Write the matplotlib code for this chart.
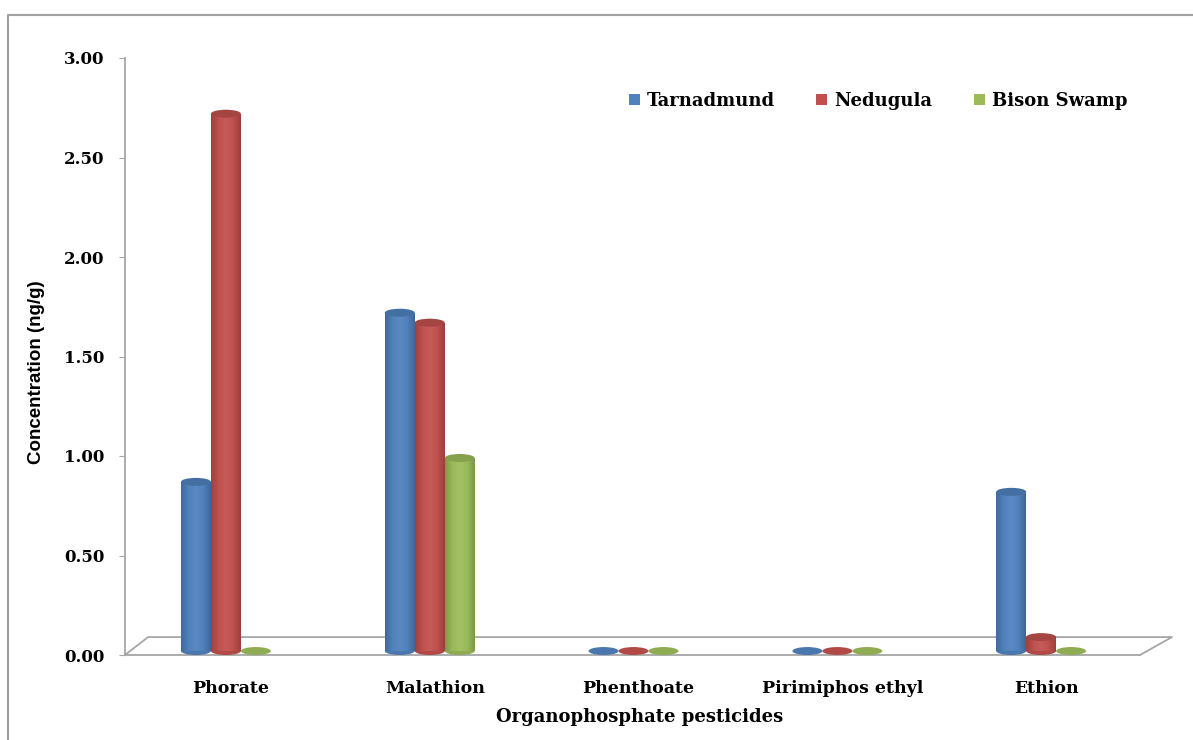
import numpy as np
import matplotlib.pyplot as plt
from matplotlib.patches import Ellipse, Patch
from matplotlib.lines import Line2D
from matplotlib.colors import LinearSegmentedColormap, to_rgb

categories = ['Phorate', 'Malathion', 'Phenthoate', 'Pirimiphos ethyl', 'Ethion']
tarnadmund = [0.85, 1.70, 0.0, 0.0, 0.80]
nedugula = [2.70, 1.65, 0.0, 0.0, 0.07]
bison_swamp = [0.0, 0.97, 0.0, 0.0, 0.0]
series_names = ['Tarnadmund', 'Nedugula', 'Bison Swamp']
colors = ['#4F81BD', '#C0504D', '#9BBB59']
yticks = [0.0, 0.5, 1.0, 1.5, 2.0, 2.5, 3.0]

serif = 'DejaVu Serif'
W, H = 1193, 740


def shade(c, f):
    r = np.array(to_rgb(c))
    if f < 1:
        return tuple(r * f)
    return tuple(r + (1 - r) * (f - 1))


fig = plt.figure(figsize=(W / 100, H / 100), dpi=100)
ax = fig.add_axes([125 / W, (H - 655) / H, 1015 / W, 597 / H])

x = np.arange(len(categories))
w = 0.147
base = 0.02
ell_h = 0.04
grad = np.linspace(0, 1, 64).reshape(1, -1)

for j, vals in enumerate([tarnadmund, nedugula, bison_swamp]):
    c = colors[j]
    cmap = LinearSegmentedColormap.from_list(
        'cyl', [shade(c, 0.82), shade(c, 1.0), shade(c, 1.07), shade(c, 1.0), shade(c, 0.8)])
    xs = x + (j - 1) * w - 0.025
    bars = ax.bar(xs, vals, w, bottom=base, color='none', edgecolor='none', zorder=3)
    for xc, v, rect in zip(xs, vals, bars):
        # rounded base of the cylinder
        ax.add_patch(Ellipse((xc, base), w, ell_h, facecolor=shade(c, 0.92),
                             edgecolor='none', zorder=2.5, clip_on=False))
        if v > 0:
            im = ax.imshow(grad, cmap=cmap, aspect='auto', zorder=3,
                           extent=[xc - w / 2, xc + w / 2, base, base + v])
            im.set_clip_path(rect)
            ax.add_patch(Ellipse((xc, base + v), w, ell_h, facecolor=shade(c, 0.86),
                                 edgecolor='none', zorder=4))

ax.set_xlim(-0.52, 4.46)
ax.set_ylim(0, 3)

# 3D floor
fl = dict(color='#a6a6a6', lw=1.3, transform=ax.transAxes, clip_on=False, zorder=1)
ax.plot([0, 1], [0, 0], **fl)
ax.plot([0, 0.0227, 1.0315, 1], [0, 0.03, 0.03, 0], **fl)

for s in ['top', 'right', 'bottom']:
    ax.spines[s].set_visible(False)
ax.spines['left'].set_color('#a6a6a6')
ax.spines['left'].set_linewidth(1.3)

ax.set_yticks(yticks)
ax.set_yticklabels([f'{t:.2f}' for t in yticks], fontfamily=serif,
                   fontweight='bold', fontsize=12)
ax.tick_params(axis='y', direction='out', length=4, color='#a6a6a6', pad=11)
ax.set_xticks(x)
ax.set_xticklabels(categories, fontfamily=serif, fontweight='bold', fontsize=12.5)
ax.tick_params(axis='x', length=0, pad=18)

ax.set_ylabel('Concentration (ng/g)', fontfamily='Liberation Sans',
              fontweight='bold', fontsize=13.5)
ax.yaxis.set_label_coords(-0.079, 0.474)
ax.set_xlabel('Organophosphate pesticides', fontfamily=serif,
              fontweight='bold', fontsize=13)
ax.xaxis.set_label_coords(0.507, -0.088)

handles = [Patch(facecolor=c, edgecolor='none') for c in colors]
ax.legend(handles, series_names, ncol=3, loc='center', bbox_to_anchor=(0.742, 0.928),
          frameon=False, handlelength=0.6, handleheight=0.6, handletextpad=0.4,
          columnspacing=2.3, prop={'family': serif, 'weight': 'bold', 'size': 13})

# outer chart frame
fig.add_artist(Line2D([8 / W, 8 / W, 1.0], [0, 1 - 15 / H, 1 - 15 / H],
                      color='#a0a0a0', lw=1.5, transform=fig.transFigure))

fig.savefig('out.png', dpi=100)
